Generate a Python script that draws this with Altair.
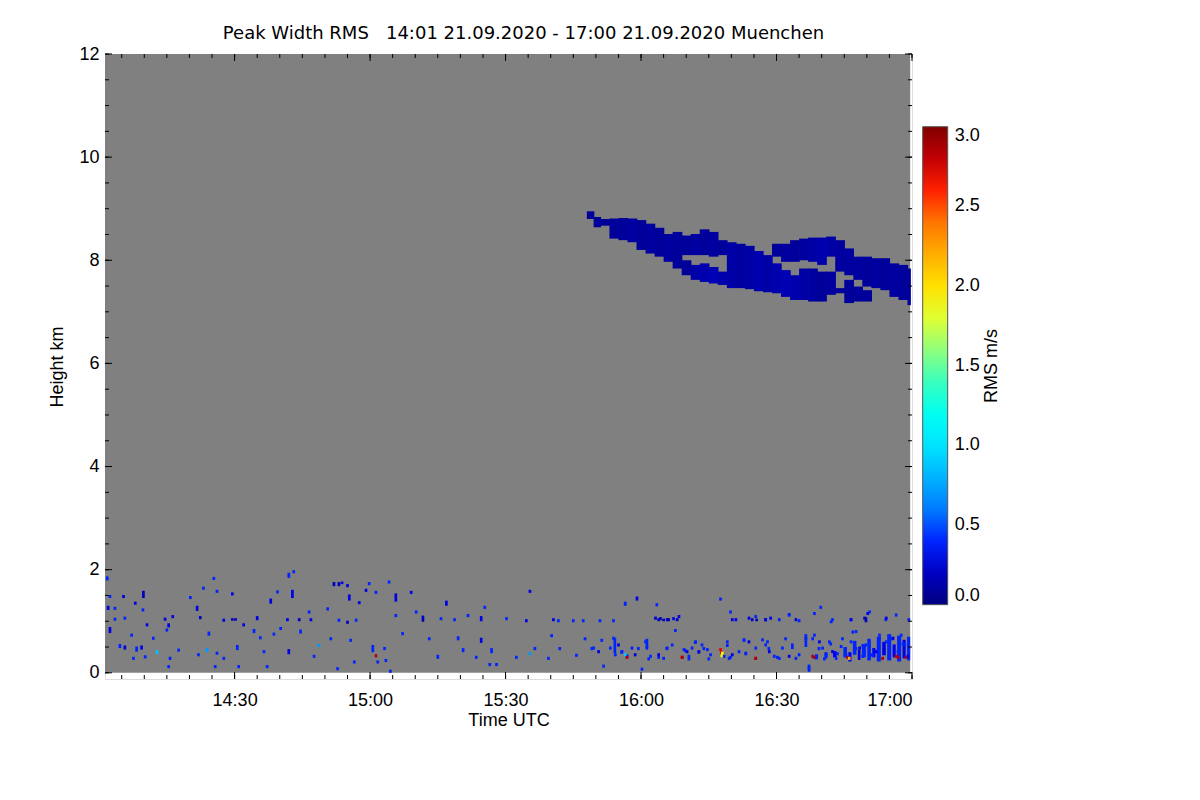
import altair as alt
import pandas as pd

# ---------------- text ----------------
title_text = "Peak Width RMS\u00a0\u00a0\u00a014:01 21.09.2020 - 17:00 21.09.2020 Muenchen"
x_title = "Time UTC"
y_title = "Height km"
colorbar_title = "RMS m/s"

# ---------------- axes / ticks (time in minutes after 14:00 UTC) ----------------
x_tick_values = [30, 60, 90, 120, 150, 180]
x_tick_labels = ["14:30", "15:00", "15:30", "16:00", "16:30", "17:00"]
x_minor_ticks = [5, 10, 15, 20, 25, 30, 35, 40, 45, 50, 55, 60, 65, 70, 75, 80, 85, 90,
                 95, 100, 105, 110, 115, 120, 125, 130, 135, 140, 145, 150, 155, 160,
                 165, 170, 175, 180]
y_tick_values = [0, 2, 4, 6, 8, 10, 12]
y_minor_ticks = [0, 0.5, 1, 1.5, 2, 2.5, 3, 3.5, 4, 4.5, 5, 5.5, 6, 6.5, 7, 7.5, 8, 8.5,
                 9, 9.5, 10, 10.5, 11, 11.5, 12]
legend_values = [0.0, 0.5, 1.0, 1.5, 2.0, 2.5, 3.0]

# jet colour table of the RMS scale
jet_domain = [0.0, 0.375, 1.125, 1.875, 2.625, 3.0]
jet_colors = ["#000080", "#0000ff", "#00ffff", "#ffff00", "#ff0000", "#800000"]

# ---------------- measurement window (no-signal = grey) ----------------
meas_t0 = [1.3]
meas_t1 = [179.6]
meas_lo = [0.0]
meas_hi = [12.0]

# ---------------- cirrus layer (time columns, km) ----------------
cloud_t0 = [108, 109.5, 111, 113, 115, 117, 119, 121, 123, 125, 127,
            129, 129, 131, 131, 133, 133, 135, 135, 137, 137,
            139, 141, 143, 145, 147,
            149, 149, 151, 151, 153, 153, 155, 155, 157, 157, 159, 159,
            161, 161, 163, 163, 165, 165, 167, 167, 169, 169,
            171, 173, 175, 177, 179]
cloud_t1 = [109.5, 111, 113, 115, 117, 119, 121, 123, 125, 127, 129,
            131, 131, 133, 133, 135, 135, 137, 137, 139, 139,
            141, 143, 145, 147, 149,
            151, 151, 153, 153, 155, 155, 157, 157, 159, 159, 161, 161,
            163, 163, 165, 165, 167, 167, 169, 169, 171, 171,
            173, 175, 177, 179, 179.6]
cloud_lo = [8.80, 8.64, 8.67, 8.42, 8.39, 8.35, 8.20, 8.13, 8.07, 7.97, 7.84,
            8.10, 7.71, 8.10, 7.62, 8.10, 7.58, 8.07, 7.55, 8.10, 7.52,
            7.46, 7.46, 7.44, 7.40, 7.38,
            8.07, 7.36, 7.97, 7.29, 7.97, 7.23, 8.00, 7.23, 7.97, 7.20, 7.91, 7.20,
            8.07, 7.33, 7.78, 7.36, 7.71, 7.17, 7.62, 7.20, 7.49, 7.20,
            7.46, 7.42, 7.29, 7.23, 7.13]
cloud_hi = [8.95, 8.84, 8.80, 8.81, 8.82, 8.81, 8.78, 8.71, 8.63, 8.51, 8.55,
            8.48, 8.00, 8.51, 7.91, 8.60, 7.94, 8.55, 7.87, 8.39, 7.78,
            8.35, 8.32, 8.28, 8.18, 8.10,
            8.32, 7.94, 8.32, 7.81, 8.39, 7.71, 8.42, 7.84, 8.44, 7.84, 8.44, 7.78,
            8.46, 7.78, 8.39, 7.46, 8.23, 7.62, 8.07, 7.49, 8.07, 7.42,
            8.04, 8.04, 7.94, 7.91, 7.84]
cloud_v = [0.08, 0.08, 0.08, 0.08, 0.08, 0.10, 0.08, 0.10, 0.08, 0.10, 0.08,
           0.08, 0.08, 0.10, 0.12, 0.08, 0.14, 0.10, 0.16, 0.08, 0.14,
           0.12, 0.10, 0.12, 0.14, 0.12,
           0.08, 0.14, 0.10, 0.16, 0.08, 0.14, 0.10, 0.12, 0.12, 0.10, 0.14, 0.08,
           0.12, 0.10, 0.10, 0.08, 0.10, 0.08, 0.10, 0.08, 0.08, 0.08,
           0.10, 0.08, 0.10, 0.08, 0.08]

# ---------------- dense boundary-layer returns after 16:35 ----------------
dense_t0 = [158.5, 160.6, 162.5, 164.8, 165.9, 166.9, 168.0, 168.9, 170.1, 171.2, 172.2,
            173.4, 174.5, 175.7, 176.7, 177.9, 178.9]
dense_t1 = [159.2, 161.3, 163.3, 165.6, 166.6, 167.7, 168.6, 169.8, 170.9, 171.9, 173.1,
            174.2, 175.4, 176.4, 177.6, 178.6, 179.6]
dense_lo = [0.26, 0.28, 0.30, 0.30, 0.22, 0.35, 0.25, 0.30, 0.24, 0.30, 0.22,
            0.34, 0.24, 0.30, 0.22, 0.28, 0.24]
dense_hi = [0.36, 0.40, 0.42, 0.50, 0.40, 0.62, 0.45, 0.55, 0.66, 0.48, 0.70,
            0.60, 0.75, 0.55, 0.72, 0.64, 0.70]
dense_v = [0.40, 0.40, 0.35, 0.40, 0.35, 0.40, 0.30, 0.40, 0.40, 0.35, 0.40,
           0.30, 0.40, 0.35, 0.40, 0.30, 0.40]

# ---------------- scattered low-level returns ----------------
# before 15:33
sp1_t = [1.5, 2.1, 1.7, 3.2, 2.1, 3.2, 5.1, 5.4, 4.3, 5.4, 6.9, 7.3, 7.7, 8.0,
         9.1, 9.5, 9.4, 9.9, 10.3, 11.7, 12.5, 14.3, 14.7, 15.1, 15.4, 15.1, 16.0, 17.3,
         19.9, 21.4, 21.7, 22.1, 22.8, 23.6, 24.0, 25.1, 25.4, 25.8, 25.8, 27.3, 27.3, 29.2,
         29.2, 29.9, 30.3, 30.6, 31.7, 34.0, 34.7, 35.4, 36.2, 36.9, 37.7, 38.4, 39.2, 39.9,
         41.7, 42.8, 42.5, 41.4, 41.7, 44.0, 44.3, 46.2, 46.6, 47.3, 48.4, 50.3, 51.0, 51.7,
         52.8, 53.5, 52.8, 52.5, 54.7, 55.1, 54.7, 55.4, 56.2, 56.6, 57.3, 58.8, 59.5, 60.3,
         61.0, 61.0, 61.4, 62.9, 63.2, 63.9, 64.2, 65.4, 65.4, 66.9, 68.8, 69.9, 71.4, 72.8,
         74.7, 75.4, 76.6, 78.4, 79.2, 80.3, 81.4, 83.2, 84.3, 84.3, 85.1, 86.6, 86.2, 87.7,
         89.9, 92.1]
sp1_h = [1.79, 1.45, 1.22, 1.22, 0.77, 1.01, 1.45, 1.03, 0.48, 0.45, 0.70, 0.25, 1.32, 0.41,
         0.45, 1.45, 1.19, 0.28, 0.90, 0.64, 0.36, 1.01, 0.80, 0.88, 0.25, 0.09, 1.06, 0.41,
         1.43, 1.20, 0.32, 1.04, 1.61, 0.40, 0.72, 1.80, 0.09, 1.55, 0.35, 0.99, 0.25, 1.50,
         1.01, 1.01, 0.44, 0.09, 0.90, 0.77, 1.02, 0.65, 0.38, 0.09, 1.34, 0.72, 1.54, 0.83,
         1.84, 1.93, 1.45, 1.00, 0.36, 1.00, 0.76, 1.15, 1.00, 0.29, 0.50, 1.21, 0.63, 1.68,
         1.68, 1.72, 0.99, 0.05, 1.66, 1.40, 0.95, 0.60, 0.18, 0.99, 1.33, 1.57, 1.70, 0.40,
         0.30, 1.53, 0.18, 0.44, 0.21, 1.73, 0.00, 1.38, 1.08, 0.73, 1.53, 1.15, 0.99, 0.63,
         0.27, 1.02, 1.30, 1.00, 0.63, 0.40, 1.08, 0.27, 1.00, 0.58, 1.24, 0.38, 0.13, 0.13,
         1.02, 0.27]
sp1_dh = [0.08, 0.06, 0.08, 0.06, 0.12, 0.06, 0.06, 0.06, 0.08, 0.08, 0.06, 0.06, 0.06, 0.10,
          0.08, 0.14, 0.06, 0.06, 0.06, 0.06, 0.08, 0.06, 0.06, 0.08, 0.06, 0.06, 0.06, 0.06,
          0.06, 0.10, 0.06, 0.06, 0.06, 0.08, 0.08, 0.06, 0.06, 0.06, 0.06, 0.06, 0.06, 0.06,
          0.05, 0.05, 0.10, 0.06, 0.06, 0.08, 0.08, 0.06, 0.06, 0.06, 0.10, 0.06, 0.06, 0.06,
          0.10, 0.06, 0.16, 0.06, 0.10, 0.06, 0.08, 0.06, 0.06, 0.06, 0.06, 0.06, 0.06, 0.08,
          0.08, 0.05, 0.06, 0.06, 0.06, 0.12, 0.06, 0.06, 0.06, 0.06, 0.06, 0.06, 0.06, 0.14,
          0.06, 0.06, 0.06, 0.06, 0.06, 0.06, 0.06, 0.16, 0.06, 0.06, 0.06, 0.06, 0.12, 0.06,
          0.08, 0.06, 0.10, 0.06, 0.08, 0.08, 0.06, 0.06, 0.10, 0.10, 0.06, 0.10, 0.06, 0.06,
          0.06, 0.06]
sp1_v = [0.40, 0.40, 0.30, 0.40, 0.30, 0.40, 0.30, 0.40, 0.40, 0.30, 0.40, 0.40, 0.30, 0.40,
         0.30, 0.20, 0.40, 0.40, 0.30, 0.40, 0.85, 0.30, 0.40, 0.30, 0.40, 0.40, 0.30, 0.40,
         0.40, 0.30, 0.40, 0.20, 0.40, 0.70, 0.40, 0.40, 0.40, 0.40, 0.40, 0.30, 0.40, 0.30,
         0.20, 0.20, 0.40, 0.40, 0.30, 0.40, 0.30, 0.40, 0.40, 0.40, 0.30, 0.40, 0.40, 0.40,
         0.40, 0.40, 0.30, 0.30, 0.30, 0.20, 0.40, 0.40, 0.30, 0.40, 0.70, 0.40, 0.40, 0.20,
         0.20, 0.30, 0.40, 0.40, 0.30, 0.30, 0.20, 0.40, 0.40, 0.40, 0.30, 0.30, 0.40, 0.40,
         2.85, 0.40, 0.40, 0.40, 0.40, 0.40, 0.40, 0.30, 0.40, 0.40, 0.30, 0.40, 0.20, 0.40,
         0.40, 0.40, 0.30, 0.40, 0.40, 0.40, 0.40, 0.40, 0.30, 0.30, 0.40, 0.40, 0.40, 0.40,
         0.40, 0.40]
# after 15:33
sp2_t = [95.1, 94.3, 96.2, 95.1, 99.2, 99.9, 100.3, 101.4, 101.7, 104.7, 105.4, 106.9, 107.3, 108.8,
         110.6, 111.0, 111.4, 113.6, 113.9, 115.4, 116.2, 116.6, 118.8, 119.9, 119.1, 121.0, 121.4, 123.2,
         123.6, 125.8, 124.7, 127.7, 123.6, 125.4, 127.3, 128.8, 129.5, 130.3, 131.7, 132.5, 133.6, 134.7,
         137.3, 137.5, 137.6, 138.8, 139.5, 139.5, 139.9, 142.5, 142.9, 144.3, 145.3, 147.3, 145.1, 147.7,
         148.0, 150.3, 149.9, 151.7, 152.5, 153.2, 154.7, 156.2, 156.9, 158.0, 157.7, 159.5, 159.1, 160.3,
         162.1, 161.7, 163.2, 164.3, 165.4, 166.6, 166.2, 167.3, 169.5, 170.3, 168.8, 171.0, 172.5, 173.9,
         174.7, 175.4, 176.6, 177.7, 179.0, 178.4]
sp2_h = [1.55, 0.98, 0.44, 0.34, 0.25, 0.69, 1.00, 0.98, 0.44, 0.98, 0.31, 0.98, 0.63, 0.44,
         0.98, 0.60, 0.10, 0.98, 0.38, 0.37, 1.30, 0.30, 1.40, 0.04, 0.44, 0.48, 0.24, 1.29,
         1.00, 1.00, 1.00, 1.00, 0.27, 0.44, 0.79, 0.27, 0.40, 0.24, 0.56, 0.37, 0.44, 0.24,
         1.40, 0.36, 0.30, 0.50, 0.27, 1.15, 1.00, 0.60, 0.34, 1.00, 1.00, 1.00, 0.25, 0.57,
         0.44, 1.00, 0.27, 0.63, 1.10, 0.46, 0.98, 0.50, 0.02, 0.27, 0.63, 1.24, 0.44, 0.24,
         1.00, 0.53, 0.34, 0.63, 0.27, 0.76, 1.00, 0.44, 0.98, 1.15, 0.50, 0.31, 0.63, 1.00,
         0.40, 0.63, 0.27, 0.53, 1.00, 0.27]
sp2_dh = [0.06, 0.06, 0.06, 0.06, 0.06, 0.06, 0.06, 0.06, 0.06, 0.06, 0.06, 0.06, 0.06, 0.06,
          0.06, 0.06, 0.06, 0.06, 0.30, 0.06, 0.06, 0.06, 0.08, 0.06, 0.06, 0.18, 0.06, 0.06,
          0.06, 0.06, 0.05, 0.06, 0.06, 0.06, 0.06, 0.06, 0.06, 0.06, 0.06, 0.06, 0.06, 0.06,
          0.06, 0.06, 0.06, 0.06, 0.06, 0.06, 0.06, 0.06, 0.06, 0.06, 0.05, 0.06, 0.06, 0.06,
          0.06, 0.06, 0.06, 0.06, 0.06, 0.06, 0.06, 0.25, 0.14, 0.06, 0.06, 0.06, 0.06, 0.06,
          0.06, 0.06, 0.06, 0.06, 0.06, 0.06, 0.06, 0.06, 0.10, 0.06, 0.06, 0.06, 0.06, 0.06,
          0.06, 0.06, 0.06, 0.06, 0.06, 0.06]
sp2_v = [0.30, 0.30, 0.40, 0.70, 0.40, 0.40, 0.30, 0.40, 0.40, 0.40, 0.40, 0.40, 0.40, 0.40,
         0.40, 0.40, 0.40, 0.40, 0.40, 0.40, 0.40, 0.40, 0.30, 0.40, 0.40, 0.40, 0.40, 0.40,
         0.20, 0.20, 0.20, 0.20, 0.40, 0.40, 0.40, 2.85, 0.40, 0.40, 0.40, 0.40, 0.40, 0.40,
         0.40, 2.70, 1.90, 0.40, 0.40, 0.40, 0.30, 0.40, 0.40, 0.20, 0.20, 0.20, 2.85, 0.40,
         0.40, 0.40, 0.40, 0.40, 0.40, 0.40, 0.40, 0.40, 0.40, 2.85, 0.40, 0.40, 0.40, 0.40,
         0.40, 0.40, 0.40, 0.40, 2.85, 0.40, 0.40, 0.40, 0.20, 0.40, 0.40, 0.40, 0.40, 0.40,
         0.40, 0.40, 2.85, 0.40, 0.40, 2.85]
# extra single cells 15:49-17:00 (one range gate tall)
sp3_t = [109.2, 110.3, 112.9, 113.6, 114.0, 114.7, 115.5, 116.2, 116.6, 117.7,
         118.4, 120.7, 121.0, 121.8, 123.6, 124.7, 125.5, 126.6, 128.8, 129.2,
         129.9, 130.3, 131.0, 131.8, 132.5, 133.2, 134.4, 135.1, 137.3, 137.7,
         138.1, 138.8, 139.2, 139.9, 141.4, 142.5, 142.9, 143.6, 145.1, 145.1,
         146.6, 147.3, 148.1, 149.2, 150.3, 151.0, 152.5, 153.2, 154.0, 154.7,
         156.2, 156.9, 157.7, 158.1, 159.2, 159.9, 160.7, 161.4, 162.1, 162.9,
         164.0, 165.1, 165.8, 166.2, 167.3, 168.1, 168.8, 169.5, 170.7, 171.8,
         172.5, 173.2, 174.0, 174.7, 175.5, 176.2, 176.6, 177.3, 178.1, 178.8,
         179.0, 122.9, 124.0, 125.5, 126.9, 128.1, 140.7, 143.6, 145.1, 147.3,
         148.4, 152.5, 154.0, 158.1, 161.8, 166.2, 169.2, 169.9, 174.0, 176.2,
         116.2]
sp3_h = [0.45, 0.38, 0.45, 0.64, 0.32, 0.51, 0.38, 0.32, 0.27, 0.45,
         0.32, 0.57, 0.45, 0.29, 0.32, 0.25, 0.45, 0.51, 0.27, 0.42,
         0.38, 0.29, 0.45, 0.57, 0.38, 0.51, 0.42, 0.32, 0.42, 0.35,
         0.29, 0.57, 0.25, 0.32, 0.38, 0.61, 0.35, 0.57, 0.25, 0.45,
         0.61, 0.51, 0.38, 0.29, 0.25, 0.45, 0.29, 0.51, 0.25, 0.32,
         0.64, 0.06, 0.29, 0.70, 0.57, 0.45, 0.32, 0.57, 0.38, 0.25,
         0.48, 0.32, 0.25, 0.57, 0.77, 0.45, 0.29, 0.51, 0.32, 0.38,
         0.70, 0.25, 0.57, 0.45, 0.64, 0.29, 0.38, 0.70, 0.51, 0.29,
         0.45, 1.03, 1.02, 1.00, 1.02, 1.06, 1.00, 1.03, 1.06, 1.00,
         1.03, 1.09, 1.00, 1.12, 0.96, 1.00, 1.03, 1.12, 1.03, 1.09,
         1.32]
sp3_v = [0.4, 0.3, 0.4, 0.4, 0.4, 0.3, 0.4, 0.9, 2.85, 0.4,
         0.3, 0.4, 0.4, 0.4, 0.3, 0.4, 0.4, 0.4, 2.85, 0.4,
         0.3, 0.4, 0.4, 0.4, 0.3, 0.4, 0.4, 0.4, 2.7, 1.9,
         0.4, 0.4, 0.4, 0.3, 0.4, 0.4, 0.4, 0.3, 2.85, 0.4,
         0.4, 0.4, 0.3, 0.4, 0.4, 0.4, 0.3, 0.4, 0.4, 0.4,
         0.4, 0.4, 2.85, 0.4, 0.3, 0.4, 0.4, 0.4, 0.3, 0.4,
         0.4, 0.4, 2.2, 0.4, 0.4, 0.3, 0.4, 0.4, 0.4, 0.3,
         0.4, 2.85, 0.4, 0.4, 0.3, 2.85, 0.4, 0.4, 0.4, 0.3,
         0.4, 0.2, 0.2, 0.2, 0.3, 0.3, 0.3, 0.3, 0.4, 0.3,
         0.3, 0.4, 0.3, 0.4, 0.4, 0.3, 0.2, 0.3, 0.3, 0.4,
         0.4]

# ---------------- styling ----------------
FONT = "Liberation Sans"
W, H = 807, 625
MAJOR, MINOR = 7, 4
CELL_MIN = 0.6   # width of one radar profile cell in minutes
GATE_KM = 0.06   # height of one range gate in km
OVERLAP = 0.15   # tiny overlap of adjacent columns to hide antialiasing seams

# ---------------- build tables ----------------
meas_df = pd.DataFrame({"t0": meas_t0, "t1": meas_t1, "lo": meas_lo, "hi": meas_hi})
cloud_df = pd.DataFrame({"t0": cloud_t0, "t1": cloud_t1, "lo": cloud_lo, "hi": cloud_hi, "v": cloud_v})
dense_df = pd.DataFrame({"t0": dense_t0, "t1": dense_t1, "lo": dense_lo, "hi": dense_hi, "v": dense_v})
sp3_df = pd.DataFrame({"t0": sp3_t, "lo": sp3_h, "v": sp3_v})
sp3_df["dh"] = GATE_KM
sp_df = pd.concat([
    pd.DataFrame({"t0": sp1_t, "lo": sp1_h, "dh": sp1_dh, "v": sp1_v}),
    pd.DataFrame({"t0": sp2_t, "lo": sp2_h, "dh": sp2_dh, "v": sp2_v}),
    sp3_df[["t0", "lo", "dh", "v"]],
], ignore_index=True)

label_expr = "''"
for v, l in reversed(list(zip(x_tick_values, x_tick_labels))):
    label_expr = f"datum.value == {v} ? '{l}' : ({label_expr})"

xscale = alt.Scale(domain=[1.3, 180], nice=False, zero=False)
yscale = alt.Scale(domain=[-0.12, 12], nice=False, zero=False)

xaxis = alt.Axis(values=x_tick_values, labelExpr=label_expr, title=x_title, ticks=False,
                 domain=False, grid=False, labelPadding=12, titlePadding=2,
                 labelFontSize=18, titleFontSize=18, labelFont=FONT, titleFont=FONT,
                 titleFontWeight="normal", labelColor="black", titleColor="black")
yaxis = alt.Axis(values=y_tick_values, title=y_title, ticks=False, domain=False, grid=False,
                 labelPadding=6, titlePadding=12, labelFontSize=18, titleFontSize=18,
                 labelFont=FONT, titleFont=FONT, titleFontWeight="normal",
                 labelColor="black", titleColor="black")

cscale = alt.Scale(domain=jet_domain, range=jet_colors, clamp=True)
legend = alt.Legend(type="gradient", orient="none", legendX=817.7, legendY=72.7,
                    direction="vertical", gradientLength=478, gradientThickness=25,
                    values=legend_values, format=".1f", labelFontSize=18, labelFont=FONT,
                    labelColor="black", labelOffset=7, labelOverlap=False, title=None,
                    gradientStrokeColor="#555555", gradientStrokeWidth=1, padding=0)
color = alt.Color("v:Q", scale=cscale, legend=legend)

X = alt.X("t0:Q", scale=xscale, axis=xaxis)
Y = alt.Y("lo:Q", scale=yscale, axis=yaxis)

bg = alt.Chart(meas_df).mark_rect(color="#808080").encode(x=X, x2="t1:Q", y=Y, y2="hi:Q")

cloud = alt.Chart(cloud_df).transform_calculate(
    t1e=f"datum.t1 + {OVERLAP}"
).mark_rect(clip=True).encode(x=X, x2="t1e:Q", y=Y, y2="hi:Q", color=color)

dense = alt.Chart(dense_df).mark_rect(clip=True).encode(
    x=X, x2="t1:Q", y=Y, y2="hi:Q", color=color)

speck = alt.Chart(sp_df).transform_calculate(
    t1=f"datum.t0 + {CELL_MIN}", hi="datum.lo + datum.dh"
).mark_rect(clip=True).encode(x=X, x2="t1:Q", y=Y, y2="hi:Q", color=color)


def xtick_layer(vals, length, top):
    df = pd.DataFrame({"t0": vals})
    if top:
        ye = dict(y=alt.value(0), y2=alt.value(length))
    else:
        ye = dict(y=alt.value(H), y2=alt.value(H - length))
    return alt.Chart(df).mark_rule(color="black", strokeWidth=1).encode(x=X, **ye)


def ytick_layer(vals, length, right):
    df = pd.DataFrame({"lo": vals})
    if right:
        xe = dict(x=alt.value(W), x2=alt.value(W - length))
    else:
        xe = dict(x=alt.value(0), x2=alt.value(length))
    return alt.Chart(df).mark_rule(color="black", strokeWidth=1).encode(y=Y, **xe)


ticks = [
    xtick_layer(x_minor_ticks, MINOR, False), xtick_layer(x_tick_values, MAJOR, False),
    xtick_layer(x_minor_ticks, MINOR, True), xtick_layer(x_tick_values, MAJOR, True),
    ytick_layer(y_minor_ticks, MINOR, False), ytick_layer(y_tick_values, MAJOR, False),
    ytick_layer(y_minor_ticks, MINOR, True), ytick_layer(y_tick_values, MAJOR, True),
]

cb_title = alt.Chart(pd.DataFrame({"label": [colorbar_title]})).mark_text(
    angle=270, fontSize=18, font=FONT, color="black", align="center", baseline="middle"
).encode(x=alt.value(887), y=alt.value(312), text="label:N")

chart = alt.layer(bg, cloud, dense, speck, *ticks, cb_title).properties(
    width=W, height=H,
    title=alt.TitleParams(text=title_text, font="DejaVu Sans", fontSize=18,
                          fontWeight="normal", anchor="middle", frame="group",
                          offset=15, baseline="alphabetic", dx=15, dy=27, color="black"),
    padding={"left": 97, "top": 46, "right": 180, "bottom": 90},
    autosize=alt.AutoSizeParams(type="none"),
).configure_view(stroke="black", strokeWidth=1).configure(background="white")

chart.save("out.html", embed_options={"renderer": "svg", "actions": False})
